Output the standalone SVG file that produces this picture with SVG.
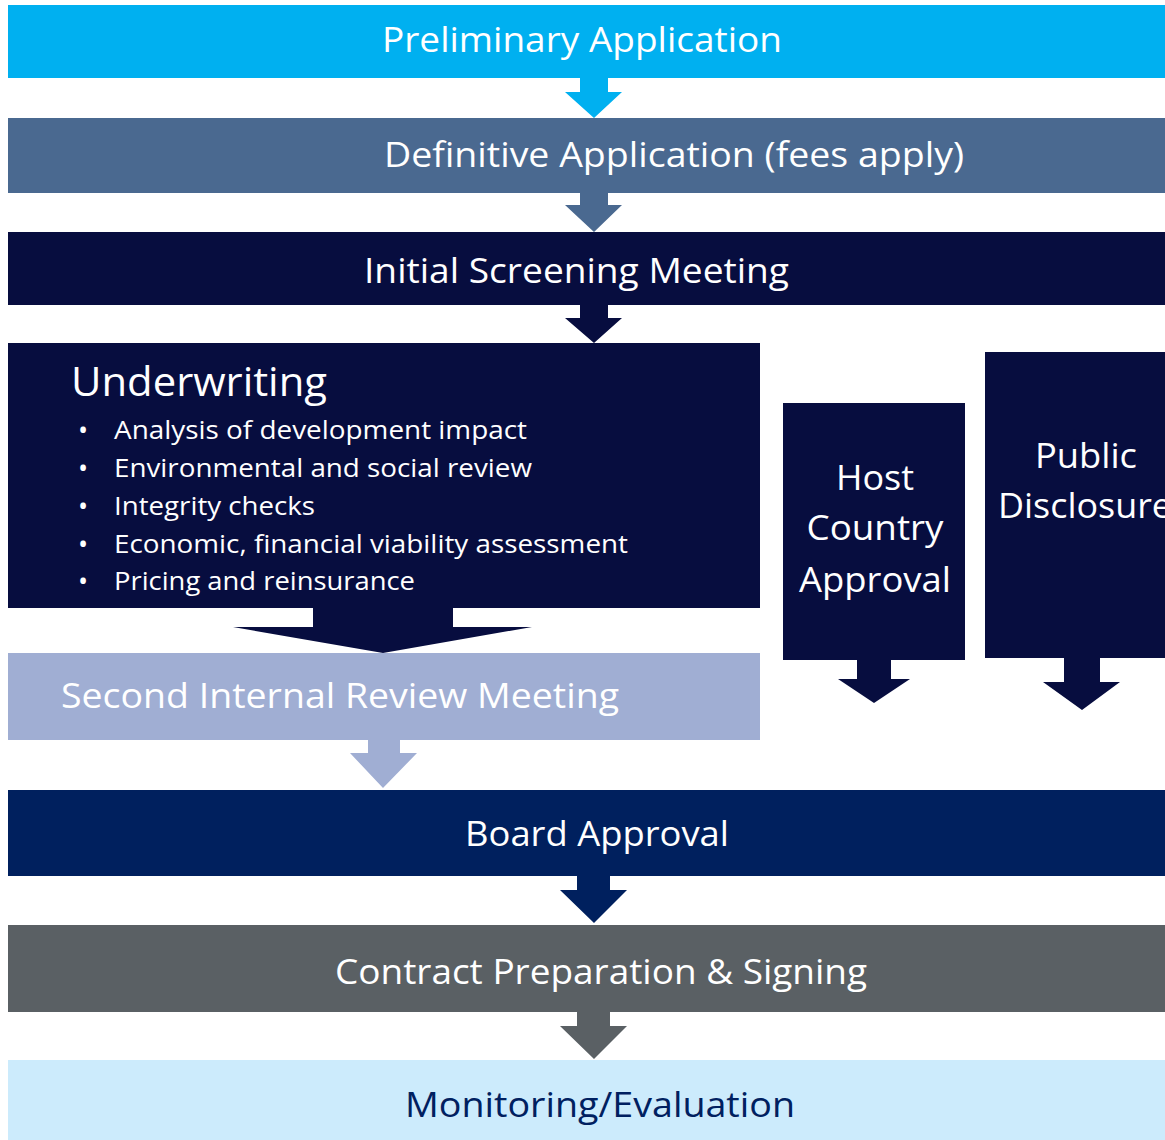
<svg xmlns="http://www.w3.org/2000/svg" width="1165" height="1140" viewBox="0 0 1165 1140">
<style>
text{font-family:"Open Sans","Noto Sans","Liberation Sans",sans-serif;fill:#fff}
.t{font-size:35px}
.b{font-size:25px}
.dot{font-size:27px}
.navy{fill:#070D3F}
</style>
<rect width="1165" height="1140" fill="#fff"/>
<g id="connectors">
<polygon points="580,78 608,78 608,92 622,92 594,118 565,92 580,92" fill="#00B0F0"/>
<polygon points="580,193 608,193 608,205 622,205 594,232 565,205 580,205" fill="#4A6990"/>
<polygon points="580,305 608,305 608,318 622,318 594,343 565,318 580,318" class="navy"/>
<polygon points="313,607 453,607 453,627 532,627 383,653 233,627 313,627" class="navy"/>
<polygon points="368,740 400,740 400,753 417,753 383,788 350,753 368,753" fill="#A0AED3"/>
<polygon points="857,659 891,659 891,679 910,679 874,703 838,679 857,679" class="navy"/>
<polygon points="1064,657 1100,657 1100,682 1120,682 1082,710 1043,682 1064,682" class="navy"/>
<polygon points="577,876 610,876 610,890 627,890 594,923 560,890 577,890" fill="#00205E"/>
<polygon points="577,1012 610,1012 610,1026 627,1026 594,1059 560,1026 577,1026" fill="#5A6064"/>
</g>
<g id="preliminary">
<rect x="8" y="5" width="1162" height="73" fill="#00B0F0"/>
<text class="t" x="382" y="52" textLength="400" lengthAdjust="spacingAndGlyphs">Preliminary Application</text>
</g>
<g id="definitive">
<rect x="8" y="118" width="1162" height="75" fill="#4A6990"/>
<text class="t" x="384" y="167" textLength="580" lengthAdjust="spacingAndGlyphs">Definitive Application (fees apply)</text>
</g>
<g id="screening">
<rect x="8" y="232" width="1162" height="73" class="navy"/>
<text class="t" x="364" y="283" textLength="425" lengthAdjust="spacingAndGlyphs">Initial Screening Meeting</text>
</g>
<g id="underwriting">
<rect x="8" y="343" width="752" height="265" class="navy"/>
<text x="71" y="396" font-size="40" textLength="256" lengthAdjust="spacingAndGlyphs">Underwriting</text>
<text class="dot" x="78" y="440">•</text><text class="b" x="114" y="439" textLength="413" lengthAdjust="spacingAndGlyphs">Analysis of development impact</text>
<text class="dot" x="78" y="478">•</text><text class="b" x="114" y="477" textLength="418" lengthAdjust="spacingAndGlyphs">Environmental and social review</text>
<text class="dot" x="78" y="516">•</text><text class="b" x="114" y="515" textLength="201" lengthAdjust="spacingAndGlyphs">Integrity checks</text>
<text class="dot" x="78" y="554">•</text><text class="b" x="114" y="553" textLength="514" lengthAdjust="spacingAndGlyphs">Economic, financial viability assessment</text>
<text class="dot" x="78" y="591">•</text><text class="b" x="114" y="590" textLength="301" lengthAdjust="spacingAndGlyphs">Pricing and reinsurance</text>
</g>
<g id="host-country">
<rect x="783" y="403" width="182" height="257" class="navy"/>
<text class="t" x="875" y="490" text-anchor="middle" textLength="78" lengthAdjust="spacingAndGlyphs">Host</text>
<text class="t" x="875" y="540" text-anchor="middle" textLength="137" lengthAdjust="spacingAndGlyphs">Country</text>
<text class="t" x="875" y="592" text-anchor="middle" textLength="152" lengthAdjust="spacingAndGlyphs">Approval</text>
</g>
<g id="public-disclosure">
<rect x="985" y="352" width="185" height="306" class="navy"/>
<text class="t" x="1035" y="468" textLength="102" lengthAdjust="spacingAndGlyphs">Public</text>
<text class="t" x="998" y="518" textLength="174" lengthAdjust="spacingAndGlyphs">Disclosure</text>
</g>
<g id="second-review">
<rect x="8" y="653" width="752" height="87" fill="#A0AED3"/>
<text class="t" x="61" y="708" textLength="558" lengthAdjust="spacingAndGlyphs">Second Internal Review Meeting</text>
</g>
<g id="board">
<rect x="8" y="790" width="1162" height="86" fill="#00205E"/>
<text class="t" x="465" y="846" textLength="264" lengthAdjust="spacingAndGlyphs">Board Approval</text>
</g>
<g id="contract">
<rect x="8" y="925" width="1162" height="87" fill="#5A6064"/>
<text class="t" x="335" y="984" textLength="532" lengthAdjust="spacingAndGlyphs">Contract Preparation &amp; Signing</text>
</g>
<g id="monitoring">
<rect x="8" y="1060" width="1162" height="85" fill="#CCEBFC"/>
<text class="t" x="405" y="1117" textLength="390" lengthAdjust="spacingAndGlyphs" style="fill:#002060">Monitoring/Evaluation</text>
</g>
</svg>
